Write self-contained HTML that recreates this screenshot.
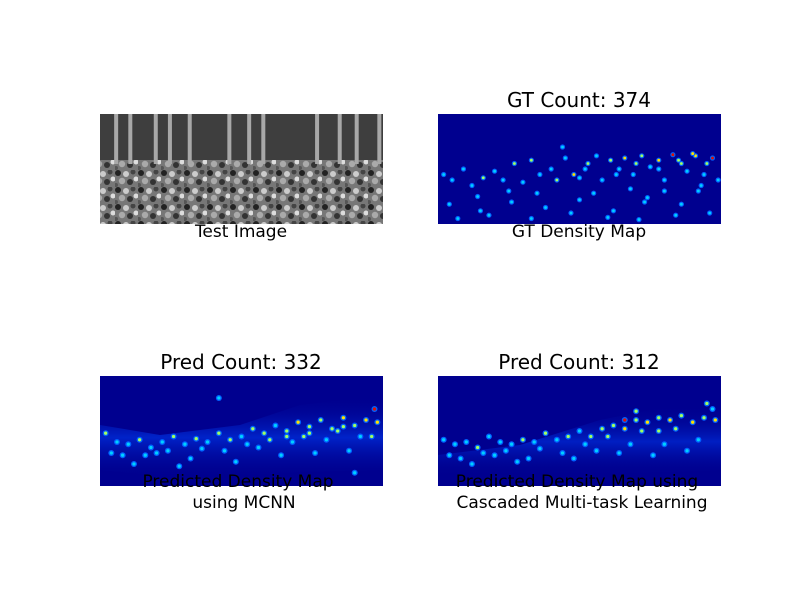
<!DOCTYPE html>
<html><head><meta charset="utf-8"><style>
html,body{margin:0;padding:0;background:#fff}
svg{display:block}
text{font-family:"DejaVu Sans","Liberation Sans",sans-serif;fill:#000}
</style></head><body>
<svg id="fig" width="800" height="600" viewBox="0 0 800 600">
<defs>
<pattern id="crowd" width="23" height="17" patternUnits="userSpaceOnUse">
<rect width="23" height="17" fill="#777"/>
<circle cx="3" cy="3" r="3" fill="#222"/>
<circle cx="11" cy="4" r="3" fill="#ccc"/>
<circle cx="18" cy="2" r="2.5" fill="#444"/>
<circle cx="7" cy="11" r="3.2" fill="#aaa"/>
<circle cx="15" cy="12" r="3" fill="#333"/>
<circle cx="21" cy="9" r="2.5" fill="#ddd"/>
<circle cx="1" cy="15" r="2" fill="#555"/>
</pattern>
<linearGradient id="bandA" x1="0" y1="0" x2="0" y2="1">
<stop offset="0" stop-color="#00008a" stop-opacity="0"/>
<stop offset="0.5" stop-color="#0030e0" stop-opacity="0.8"/>
<stop offset="1" stop-color="#00008a" stop-opacity="0"/>
</linearGradient>
</defs>

<g>
<rect x="100" y="114" width="283" height="110" fill="#8a8a8a"/>
<rect x="100" y="114" width="283" height="50" fill="#3e3e3e"/>
<rect x="100" y="160" width="283" height="64" fill="url(#crowd)"/>
<g id="trunks" fill="#a8a8a8"></g>
</g>
<text x="241" y="237" font-size="17" text-anchor="middle">Test Image</text>

<text x="579" y="107" font-size="20" text-anchor="middle">GT Count: 374</text>
<g id="gt">
<rect x="438" y="114" width="283" height="110" fill="#00008f"/>
</g>
<text x="579" y="237" font-size="17" text-anchor="middle">GT Density Map</text>

<text x="241" y="369" font-size="20" text-anchor="middle">Pred Count: 332</text>
<g id="p1">
<rect x="100" y="376" width="283" height="110" fill="#00008f"/>
<polygon points="100,425 160,435 240,425 300,405 383,395 383,470 300,472 200,480 100,470" fill="url(#bandA)" opacity="0.9"/>
</g>
<text x="238" y="487" font-size="17" text-anchor="middle">Predicted Density Map</text>
<text x="244" y="508" font-size="17" text-anchor="middle">using MCNN</text>

<text x="579" y="369" font-size="20" text-anchor="middle">Pred Count: 312</text>
<g id="p2">
<rect x="438" y="376" width="283" height="110" fill="#00008f"/>
<polygon points="438,455 520,445 600,420 660,408 721,405 721,470 600,475 438,478" fill="url(#bandA)" opacity="0.8"/>
</g>
<text x="577" y="487" font-size="17" text-anchor="middle">Predicted Density Map using</text>
<text x="582" y="508" font-size="17" text-anchor="middle">Cascaded Multi-task Learning</text>
</svg>
<script>
const NS="http://www.w3.org/2000/svg";
const trunkX=[0.05,0.1,0.19,0.24,0.31,0.45,0.52,0.57,0.76,0.84,0.9,0.98];
const gtX=[0.02,0.05,0.09,0.12,0.16,0.2,0.23,0.27,0.3,0.33,0.36,0.4,0.42,0.45,0.48,0.5,0.53,0.56,0.58,0.61,0.64,0.66,0.69,0.72,0.75,0.78,0.8,0.83,0.86,0.88,0.91,0.94,0.97,0.99,0.04,0.14,0.26,0.38,0.5,0.62,0.74,0.86,0.96,0.07,0.18,0.33,0.47,0.6,0.71,0.84,0.92,0.25,0.55,0.68,0.8,0.93,0.44,0.35,0.15,0.73,0.85,0.9,0.95,0.78,0.7,0.63,0.52];
const gtY=[0.55,0.6,0.5,0.65,0.58,0.52,0.6,0.45,0.62,0.42,0.55,0.5,0.6,0.4,0.55,0.58,0.45,0.38,0.6,0.42,0.5,0.4,0.55,0.38,0.48,0.42,0.6,0.37,0.45,0.52,0.38,0.55,0.4,0.6,0.82,0.75,0.8,0.85,0.78,0.88,0.76,0.82,0.9,0.95,0.92,0.95,0.9,0.94,0.96,0.92,0.7,0.7,0.72,0.68,0.7,0.65,0.3,0.72,0.88,0.8,0.42,0.36,0.45,0.5,0.45,0.55,0.5];
const gtV=[1,1,1,1,2,1,1,2,1,2,1,1,2,1,3,1,2,1,1,2,1,3,1,2,1,3,1,4,2,1,3,1,4,1,1,1,1,1,1,1,1,1,1,1,1,1,1,1,1,1,1,1,1,1,1,1,1,1,1,1,2,3,2,1,2,1,1];
const p1X=[0.02,0.06,0.1,0.14,0.18,0.22,0.26,0.3,0.34,0.38,0.42,0.46,0.5,0.54,0.58,0.62,0.66,0.7,0.74,0.78,0.82,0.86,0.9,0.94,0.98,0.08,0.2,0.32,0.44,0.56,0.68,0.8,0.92,0.12,0.28,0.48,0.64,0.76,0.88,0.97,0.9,0.42,0.04,0.16,0.24,0.36,0.52,0.6,0.72,0.84,0.96,0.66,0.74,0.86];
const p1Y=[0.52,0.6,0.62,0.58,0.65,0.6,0.55,0.62,0.57,0.6,0.52,0.58,0.55,0.48,0.52,0.45,0.5,0.42,0.46,0.4,0.48,0.38,0.45,0.4,0.42,0.72,0.7,0.75,0.68,0.65,0.6,0.58,0.55,0.8,0.82,0.78,0.72,0.7,0.68,0.3,0.88,0.2,0.7,0.72,0.68,0.66,0.62,0.58,0.55,0.5,0.55,0.55,0.52,0.46];
const p1V=[2,1,1,2,1,1,2,1,2,1,2,2,1,2,2,1,2,3,2,2,2,3,2,3,3,1,1,1,1,1,1,1,1,1,1,1,1,1,1,4,1,1,1,1,1,1,1,2,2,2,2,2,2,2];
const p2X=[0.02,0.06,0.1,0.14,0.18,0.22,0.26,0.3,0.34,0.38,0.42,0.46,0.5,0.54,0.58,0.62,0.66,0.7,0.74,0.78,0.82,0.86,0.9,0.94,0.98,0.08,0.2,0.32,0.44,0.56,0.68,0.8,0.92,0.12,0.28,0.48,0.64,0.76,0.88,0.97,0.66,0.95,0.04,0.16,0.24,0.36,0.52,0.6,0.72,0.84,0.7,0.78];
const p2Y=[0.58,0.62,0.6,0.65,0.55,0.6,0.62,0.58,0.6,0.52,0.58,0.55,0.5,0.55,0.48,0.45,0.48,0.4,0.42,0.38,0.4,0.36,0.42,0.38,0.4,0.75,0.72,0.75,0.7,0.68,0.62,0.62,0.58,0.8,0.78,0.75,0.7,0.72,0.68,0.3,0.4,0.25,0.72,0.7,0.68,0.66,0.62,0.55,0.5,0.48,0.32,0.5];
const p2V=[1,1,1,2,1,1,1,2,1,2,1,2,1,2,2,2,3,2,3,2,3,2,3,2,3,1,1,1,1,1,1,1,1,1,1,1,1,1,1,1,4,2,1,1,1,1,1,2,2,2,2,2];
const cols=["#0060ff","#00d0ff","#a0ff60","#ffe000","#e01000"];
function dots(gid,x0,y0,w,h,xs,ys,vs,r){
  const g=document.getElementById(gid);
  xs.forEach((fx,i)=>{
    const c=document.createElementNS(NS,"circle");
    
    
    c.setAttribute("cx",x0+fx*w);c.setAttribute("cy",y0+ys[i]*h);
    c.setAttribute("r",r);c.setAttribute("fill",cols[0]);
    g.appendChild(c);
    const d=document.createElementNS(NS,"circle");
    
    
    d.setAttribute("cx",x0+fx*w);d.setAttribute("cy",y0+ys[i]*h);
    d.setAttribute("r",r*0.55);d.setAttribute("fill",cols[Math.min(vs[i],4)]);
    g.appendChild(d);
  });
}
dots("gt",438,114,283,110,gtX,gtY,gtV,2.6);
dots("p1",100,376,283,110,p1X,p1Y,p1V,3);
dots("p2",438,376,283,110,p2X,p2Y,p2V,3);
const tg=document.getElementById("trunks");
trunkX.forEach(f=>{
  const r=document.createElementNS(NS,"rect");
  
  
  r.setAttribute("x",100+f*283);r.setAttribute("y",114);
  r.setAttribute("width",4);r.setAttribute("height",50);
  tg.appendChild(r);
});
</script>
</body></html>
